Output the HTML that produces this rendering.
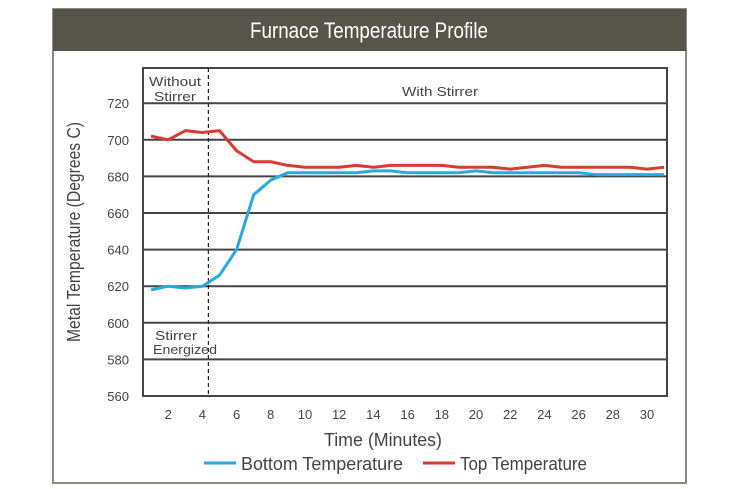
<!DOCTYPE html>
<html><head><meta charset="utf-8"><style>
html,body{margin:0;padding:0;background:#fff;}
svg{display:block;font-family:"Liberation Sans Narrow","Liberation Sans",sans-serif;}
</style></head><body>
<svg id="chart" width="736" height="489" viewBox="0 0 736 489">
<rect x="53" y="9" width="633" height="474" fill="#fff" stroke="#8a8a86" stroke-width="2"/>
<rect x="53" y="9" width="633" height="42" fill="#57554b"/>
<text x="369" y="38" text-anchor="middle" fill="#fff" font-size="22" textLength="238" lengthAdjust="spacingAndGlyphs">Furnace Temperature Profile</text>
<g id="grid"></g>
<rect x="143" y="68" width="524" height="328" fill="none" stroke="#444" stroke-width="2"/>
<g id="series"></g>
<text x="175" y="86" text-anchor="middle" font-size="13" fill="#444" textLength="52" lengthAdjust="spacingAndGlyphs">Without</text>
<text x="175" y="101" text-anchor="middle" font-size="13" fill="#444" textLength="42" lengthAdjust="spacingAndGlyphs">Stirrer</text>
<text x="440" y="96" text-anchor="middle" font-size="13" fill="#444" textLength="76" lengthAdjust="spacingAndGlyphs">With Stirrer</text>
<text x="176" y="340" text-anchor="middle" font-size="13" fill="#444" textLength="42" lengthAdjust="spacingAndGlyphs">Stirrer</text>
<text x="185" y="354" text-anchor="middle" font-size="13" fill="#444" textLength="64" lengthAdjust="spacingAndGlyphs">Energized</text>
<text x="80" y="232" text-anchor="middle" font-size="18" fill="#444" transform="rotate(-90 80 232)" textLength="220" lengthAdjust="spacingAndGlyphs">Metal Temperature (Degrees C)</text>
<text x="383" y="446" text-anchor="middle" font-size="18" fill="#444" textLength="118" lengthAdjust="spacingAndGlyphs">Time (Minutes)</text>
<line x1="204" y1="463" x2="236" y2="463" stroke="#29a9e0" stroke-width="3"/>
<text x="241" y="470" font-size="18" fill="#444" textLength="162" lengthAdjust="spacingAndGlyphs">Bottom Temperature</text>
<line x1="423" y1="463" x2="455" y2="463" stroke="#d93a32" stroke-width="3"/>
<text x="460" y="470" font-size="18" fill="#444" textLength="127" lengthAdjust="spacingAndGlyphs">Top Temperature</text>
</svg>
<script>
const minutes = [1,2,3,4,5,6,7,8,9,10,11,12,13,14,15,16,17,18,19,20,21,22,23,24,25,26,27,28,29,30,31];
const bottomTemp = [618,620,619,620,626,640,670,678,682,682,682,682,682,683,683,682,682,682,682,683,682,682,682,682,682,682,681,681,681,681,681];
const topTemp = [702,700,705,704,705,694,688,688,686,685,685,685,686,685,686,686,686,686,685,685,685,684,685,686,685,685,685,685,685,684,685];
const yTicks = [560,580,600,620,640,660,680,700,720];
const xTicks = [2,4,6,8,10,12,14,16,18,20,22,24,26,28,30];
const stirrerTime = 4.35;
const NS="http://www.w3.org/2000/svg";
function xS(t){return 134+17.1*t;}
function yS(v){return 396-(v-560)*1.83;}
const grid=document.getElementById('grid');
const series=document.getElementById('series');
const svg=document.getElementById('chart');
yTicks.forEach(v=>{
  const l=document.createElementNS(NS,'line');
  l.setAttribute('x1',143);l.setAttribute('x2',667);
  l.setAttribute('y1',yS(v));l.setAttribute('y2',yS(v));
  l.setAttribute('stroke','#444');l.setAttribute('stroke-width','2');
  
  
  grid.appendChild(l);
  const t=document.createElementNS(NS,'text');
  t.setAttribute('x',129);t.setAttribute('y',yS(v)+5);
  t.setAttribute('text-anchor','end');t.setAttribute('font-size','13');t.setAttribute('fill','#444');
  t.textContent=v;
  
  
  svg.appendChild(t);
});
xTicks.forEach(v=>{
  const t=document.createElementNS(NS,'text');
  t.setAttribute('x',xS(v));t.setAttribute('y',419);
  t.setAttribute('text-anchor','middle');t.setAttribute('font-size','13');t.setAttribute('fill','#444');
  t.textContent=v;
  
  
  svg.appendChild(t);
});
const d=document.createElementNS(NS,'line');
d.setAttribute('x1',xS(stirrerTime));d.setAttribute('x2',xS(stirrerTime));
d.setAttribute('y1',68);d.setAttribute('y2',396);
d.setAttribute('stroke','#222');d.setAttribute('stroke-width','1.2');d.setAttribute('stroke-dasharray','4 3');


series.appendChild(d);
function line(vals,color,name){
  const p=document.createElementNS(NS,'polyline');
  p.setAttribute('points',vals.map((v,i)=>xS(minutes[i])+','+yS(v)).join(' '));
  p.setAttribute('fill','none');p.setAttribute('stroke',color);p.setAttribute('stroke-width','3');
  p.setAttribute('stroke-linejoin','round');
  
  
  series.appendChild(p);
}
line(bottomTemp,'#29a9e0','bottom-temperature-line');
line(topTemp,'#d93a32','top-temperature-line');
</script>
</body></html>
